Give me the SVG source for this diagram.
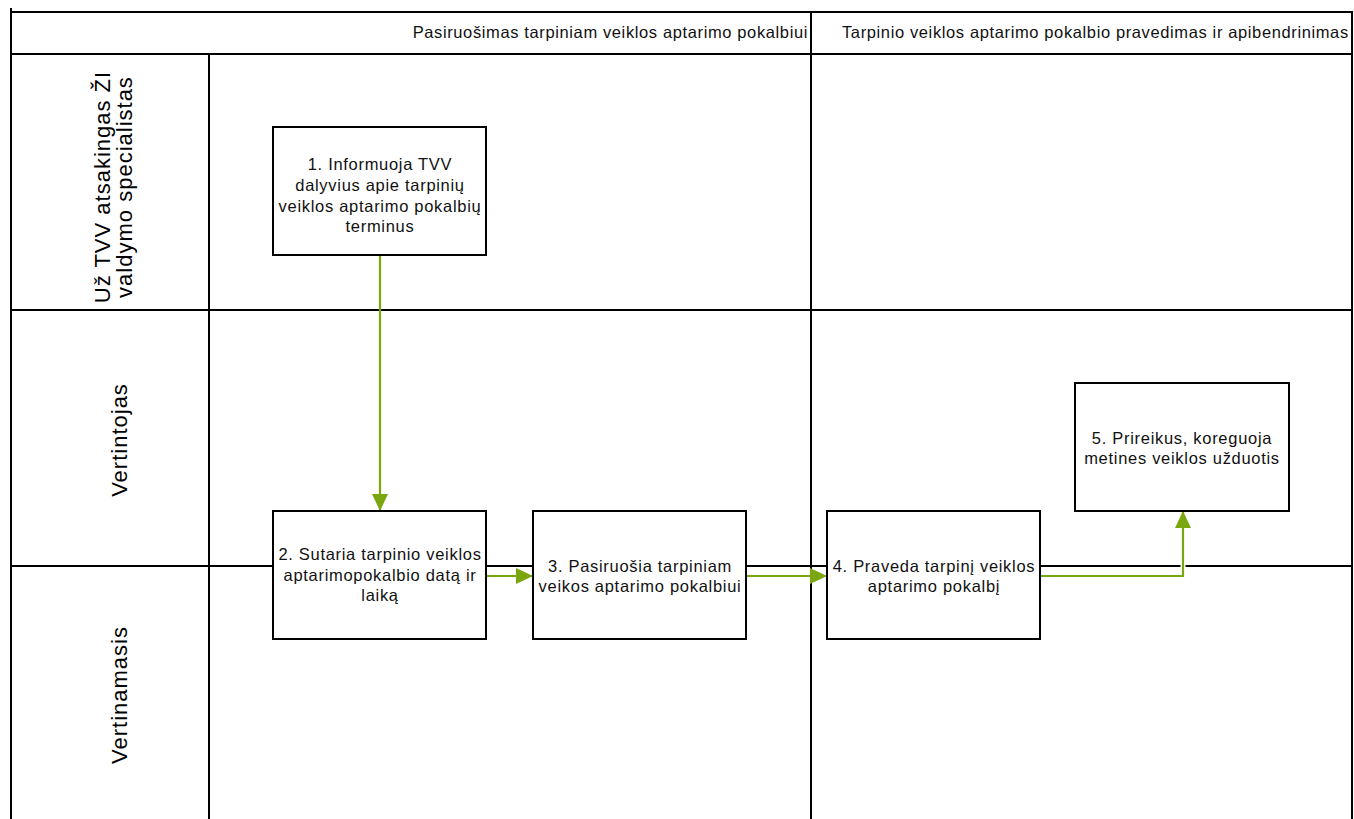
<svg xmlns="http://www.w3.org/2000/svg" width="1354" height="819" viewBox="0 0 1354 819">
  <style>
    .grid { stroke: #000; stroke-width: 2; fill: none; }
    .box { fill: #fff; stroke: #000; stroke-width: 2; }
    .txt { font-family: "Liberation Sans", Arial, sans-serif; font-size: 16.5px; letter-spacing: 0.7px; fill: #111; text-anchor: middle; }
    .hdr { font-family: "Liberation Sans", Arial, sans-serif; font-size: 16.5px; letter-spacing: 0.62px; fill: #111; }
    .lane { font-family: "Liberation Sans", Arial, sans-serif; font-size: 22px; letter-spacing: 1px; fill: #000; text-anchor: middle; }
    .halo { stroke: #fff; stroke-width: 5; fill: none; }
    .flow { stroke: #7aa60f; stroke-width: 2.2; fill: none; marker-end: url(#arr); }
  </style>
  <defs>
    <marker id="arr" viewBox="0 0 17 16" refX="17" refY="8" markerWidth="17" markerHeight="16" markerUnits="userSpaceOnUse" orient="auto">
      <path d="M0,0 L17,8 L0,16 Z" fill="#7aa60f"/>
    </marker>
  </defs>
  <rect width="1354" height="819" fill="#fff"/>

  <!-- swimlane grid -->
  <g id="grid">
    <path class="grid" d="M11,8 V819 M11,12 H1352 V819 M11,54 H1352 M209,54 V819 M811,12 V819 M11,310 H1352 M11,566 H1352"/>
  </g>

  <!-- phase headers -->
  <g id="phases">
    <text class="hdr" x="808" y="38" text-anchor="end">Pasiruošimas tarpiniam veiklos aptarimo pokalbiui</text>
    <text class="hdr" x="842" y="38">Tarpinio veiklos aptarimo pokalbio pravedimas ir apibendrinimas</text>
  </g>

  <!-- lane titles -->
  <g id="lanes">
    <text class="lane" transform="translate(110,187) rotate(-90)">Už TVV atsakingas ŽI</text>
    <text class="lane" transform="translate(132,187) rotate(-90)">valdymo specialistas</text>
    <text class="lane" transform="translate(127,440) rotate(-90)">Vertintojas</text>
    <text class="lane" transform="translate(127,695) rotate(-90)">Vertinamasis</text>
  </g>

  <!-- connectors -->
  <g id="connectors">
    <path class="halo" d="M486,576 H516 M746,576 H810 M1040,576 H1183 V528"/>
    <path class="flow" d="M380,255 V511"/>
    <path class="flow" d="M486,576 H533"/>
    <path class="flow" d="M746,576 H827"/>
    <path class="flow" d="M1040,576 H1183 V511"/>
  </g>

  <g id="n1">
    <rect class="box" x="273" y="127" width="213" height="128"/>
    <text class="txt" x="380" y="170">1. Informuoja TVV</text>
    <text class="txt" x="380" y="191">dalyvius apie tarpinių</text>
    <text class="txt" x="380" y="212">veiklos aptarimo pokalbių</text>
    <text class="txt" x="380" y="232">terminus</text>
  </g>
  <g id="n2">
    <rect class="box" x="273" y="511" width="213" height="128"/>
    <text class="txt" x="380" y="560">2. Sutaria tarpinio veiklos</text>
    <text class="txt" x="380" y="581">aptarimopokalbio datą ir</text>
    <text class="txt" x="380" y="601">laiką</text>
  </g>
  <g id="n3">
    <rect class="box" x="533" y="511" width="213" height="128"/>
    <text class="txt" x="640" y="572">3. Pasiruošia tarpiniam</text>
    <text class="txt" x="640" y="592">veikos aptarimo pokalbiui</text>
  </g>
  <g id="n4">
    <rect class="box" x="827" y="511" width="213" height="128"/>
    <text class="txt" x="934" y="572">4. Praveda tarpinį veiklos</text>
    <text class="txt" x="934" y="592">aptarimo pokalbį</text>
  </g>
  <g id="n5">
    <rect class="box" x="1075" y="383" width="214" height="128"/>
    <text class="txt" x="1182" y="444">5. Prireikus, koreguoja</text>
    <text class="txt" x="1182" y="464">metines veiklos užduotis</text>
  </g>
</svg>
